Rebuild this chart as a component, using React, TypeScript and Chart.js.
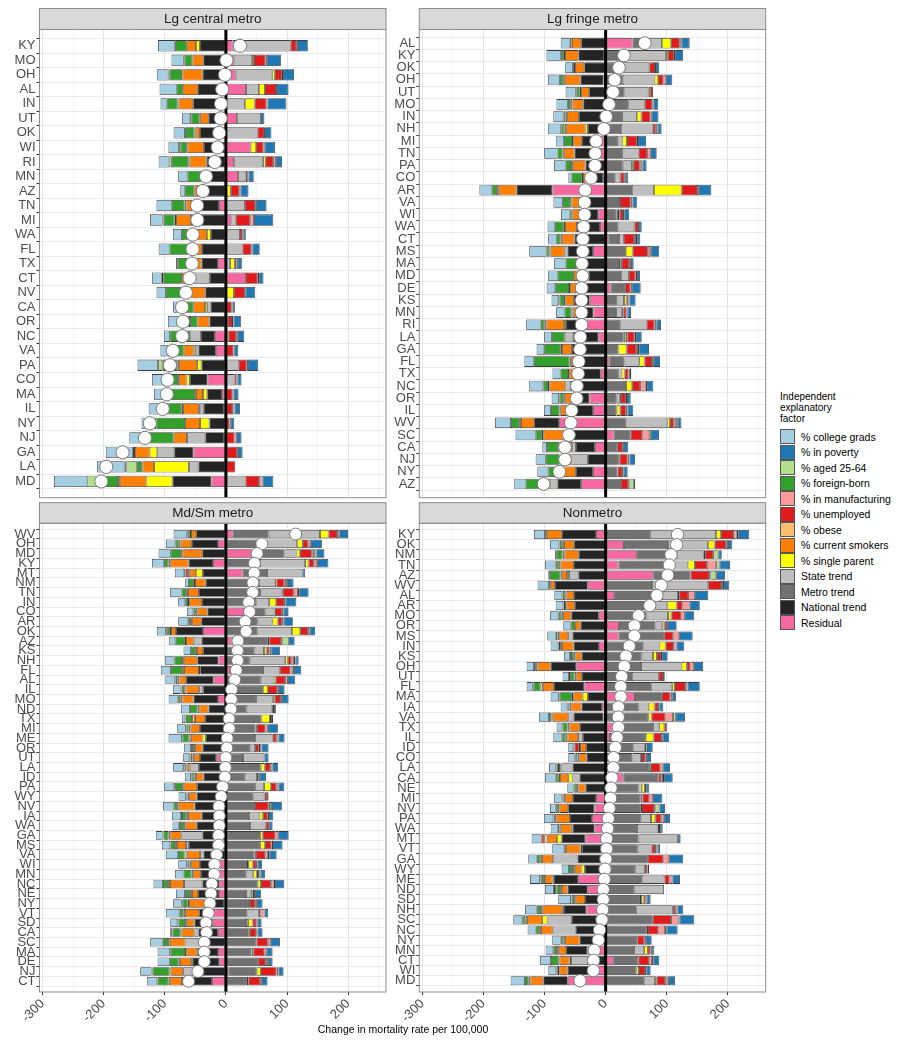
import { useEffect, useRef } from "react";
import { Chart, registerables } from "chart.js";

Chart.register(...registerables);

const FONT = "'Liberation Sans', Arial, Helvetica, sans-serif";

const factorLabels = [
  "% college grads",
  "% in poverty",
  "% aged 25-64",
  "% foreign-born",
  "% in manufacturing",
  "% unemployed",
  "% obese",
  "% current smokers",
  "% single parent",
  "State trend",
  "Metro trend",
  "National trend",
  "Residual",
];

const factorColors = [
  "#A6CEE3",
  "#1F78B4",
  "#B2DF8A",
  "#33A02C",
  "#FB9A99",
  "#E31A1C",
  "#FDBF6F",
  "#FF7F00",
  "#FFFF00",
  "#BEBEBE",
  "#717171",
  "#242424",
  "#F768A1",
];

const xGridValues = [-300, -250, -200, -150, -100, -50, 0, 50, 100, 150, 200, 250];

// Each row: [college, poverty, aged, foreign, manuf, unemp, obese, smokers, single, state, metro, national, residual]
const centralStates = ["KY", "MO", "OH", "AL", "IN", "UT", "OK", "WI", "RI", "MN", "AZ", "TN", "MI", "WA", "FL", "TX", "CT", "NV", "CA", "OR", "NC", "VA", "PA", "CO", "MA", "IL", "NY", "NJ", "GA", "LA", "MD"];
const centralValues = [
  [-28, 16, 0, -19, 3, 9, 0, -15, -6.5, 95, 0, -42.5, 11],
  [-20, 23, -1.5, -13, 2, 19, 0, -17.5, 3, 29, 0, -37, 14],
  [-19, 18, -2, -20, 2, 11, -1, -33, 4.5, 60, 0, -38, 16],
  [-28, 19, 0, -10, 1.5, 18, 0, -24.5, 10, 21, 0, -46, 33],
  [-10, 31, 0, -18, 1.5, 19.5, -1.5, -24, 16, 31, 0, -53.5, 0],
  [-12, 5.5, -3, -13, 0, 0, -1.5, -14, 0, 39.5, 0, -28, 18],
  [-18.5, 10.5, -1.5, -14, 1.5, 10.5, -2, -7, 0, 52, 0, -42.5, 0],
  [-17, 17, -3, -10, 2, 12, -1, -27, 9, 0, 0, -36, 40.5],
  [-17.5, 10, -4, -27, 4.4, 12, -2, -28, 4.4, 48, 0, -31.5, 13],
  [-15, 8.5, 0, -22, 2, 3, 0, 0, 0, 12, 0, -41, 20],
  [-8, 13, 0, -15, 2, 14, 0, -6, 8, 0, 0, -45.6, 0],
  [-25, 17, 0, -21, 1.5, 17, -3, -10, 0, 31, 0, -43.6, -11],
  [-20.7, 31.5, -1.5, -18, 6, 24, -2.5, -24.5, 0, 7, 0, -57, 9],
  [-14.7, 4, 0, -24.5, 1, 4.5, 0, -16.4, -6.5, 23, 0, -24.6, 0],
  [-17.5, 12, 0, -31.6, 1.6, 14.7, 0, -21.8, 0, 27, 0, -39, 0],
  [-2.7, 6.5, 0, -19, 2, 3, 0, -20, 7.5, 7, 0, -27.3, -12.5],
  [-16, 7, -2.5, -30.5, 2.5, 19, 0, -8, 0, -38, 0, -26, 33],
  [-15.3, 15.5, 0, -23.5, 1.5, 18, 0, -41, 13, 0, 0, -33.7, 0],
  [-7, 4, 0, -26, 1.2, 9.5, 0, -19, -3.8, -5.5, 0, -25, 0],
  [-33.5, 12, -2.7, -12, 2.5, 7, 0, -19.6, 0, 0, 0, -27, 3],
  [-9.8, 10.5, -0.7, -32, 2.5, 13, 0, 0, 4, -18, 0, -23, -18],
  [-16, 6.5, 0, -22, 1.2, 12.5, 0, -16.4, -3.3, -4.4, 0, -28.6, -16.4],
  [-33.6, 17, -7, -25, 2, 13, -2, -30, -7, 21, 0, -40, 0],
  [-17.5, 6.6, 0, -25, 1.5, 3.5, -1.5, -12.5, -5.5, 14, 0, -29, -30],
  [-16, 8.2, 0, -51, 1.5, 11, -1.3, -11.5, -7, 0, 0, -24.5, -6],
  [-32, 9, 0, -22, 4, 10, -2, -26, -1.6, -7, 0, -33, -2.7],
  [-23.5, 5.6, -0.7, -47, 2, 6, 0, -24.5, -15.3, 0, 0, -27, 0],
  [-21.8, 7.6, 0, -50.7, 4, 14, 0, -21.8, 0, -30, 0, -31, -2.7],
  [-44, 7.5, 0, -2, 1.3, 18.5, -1.6, -24, -12.5, -27.8, 0, -31.5, -53],
  [-45, -3.3, -17.5, -7.6, 0, 15.3, -1.1, -19, -57, -15.5, 0, -45, 0],
  [-54.6, 17.5, -19.6, -30.5, 6, 22, -3, -43.6, -42.5, 32, 0, -64, -23.5],
];

const fringeStates = ["AL", "KY", "OK", "OH", "UT", "MO", "IN", "NH", "MI", "TN", "PA", "CO", "AR", "VA", "WI", "WA", "CT", "MS", "MA", "MD", "DE", "KS", "MN", "RI", "LA", "GA", "FL", "TX", "NC", "OR", "IL", "WV", "SC", "CA", "NJ", "NY", "AZ"];
const fringeValues = [
  [-14.5, 13, 1.6, -3, 1.6, 14, -1, -15, 15.3, 29, 19, -40, 44],
  [-24, 13, 0, -4.4, 2.2, 9.3, -2, -21.8, 3.3, 69, 30, -42, -2.7],
  [-12.5, 5.5, 0, -1.6, 1.6, 9.3, -2, -15, 0, 48, 23.5, -35, 0],
  [-19.6, 10, 0, -5.5, 4.4, 8.7, -2.5, -25.6, 6, 52, 28, -38, -3.3],
  [-16.5, 0, -1, -5.5, 0, 4.5, -2.5, -13, 3, 39, 31, -27, 0],
  [-19, 8, 0, -4.4, 1.6, 12.5, -3, -17.5, 0, 27, 37, -36.6, 0],
  [-16.4, 11, 0, -3.3, 2, 15, -3, -19, 7.5, 24, 27, -43.9, 0],
  [-21, 6.6, -1, -5, 3, 5, -3, -31.5, -4, 52, 25, -29, 0],
  [-13.6, 13, 0, -13, 2, 16, -2, -14, 7.5, 6.5, 21, -31, -8],
  [-21.8, 9.5, 0, -8.2, 6, 14, -2, -17.5, 0, 27, 27, -43, -8],
  [-19, 6.5, 1.4, -8.7, 3.3, 9.5, -3, -20.7, 3.3, 15, 24, -33, 4],
  [-5, 4, 0, -17, 2.5, 6.5, -2, -9, 0, 8, 16, -24, -4],
  [-21, 20, 0, -7.6, 3.5, 25, -3, -29, 45.5, 36, 43, -59, -87],
  [-15.5, 7, 0, -12, 3, 17.5, -2, -14, 0, 0, 23.5, -42, 0],
  [-14, 8, 0, -3.5, 2, 6, -1.5, -16, 2.5, 2, 18, -26, -12],
  [-12.5, 4.5, 0, -14, 1.5, 6, -2, -19.6, 0, 26, 21, -38, -9],
  [-14, 5, 2, -6, 3, 17, -3, -20, 0, 7.7, 17, -51, 5],
  [-28, 13, 1.6, -5, 4, 25, -2, -23, 11, -4.5, 33, -42, -20.5],
  [-19, 4.3, 0, -20, 3, 12, 0, -2, 2.5, 2, 22, -43.6, 0],
  [-15.5, 4.7, 0, -26.5, 2.5, 11, 0, -22, -2, 13, 25, -28, 0],
  [-14, 13.8, -1.5, -21, 3, 8.5, -2, -10, 0, 0, 24, -48, 8],
  [-11, 10, -2, -7.5, 1.5, 3.5, -2, -14, 4, 10.5, 19.5, -26, -26],
  [-13.5, 5.5, 0, -11.5, 2, 5, -2, -5, 2, 10, 17, -29, -20],
  [-23.5, 7.6, -1, -5.5, 3, 13, -3, -29, -3, 43, 24, -33, -32],
  [-12.5, 9, 0, -21, 2.5, 12, 0, 3, 3, -14, 29.5, -41.5, -11.5],
  [-12.5, 16, 2, -27, 3, 16, -2, -16.5, 13, 0, 21, -55, 0],
  [-16, 10, 0, -58, 3, 12.5, -2, -6, 8.5, 24, 25, -51, 6],
  [-13, 2.5, 0, -12.5, 2, 6.5, -2, -8.5, 5, 6, 20, -43, -8],
  [-23, 10, 2.5, -7.5, 9, 13, -2.5, -26, 10, -9.5, 33.5, -56.5, 0],
  [-12, 6, -1, -6, 2, 8, -2.5, -11.5, 2, 5, 18, -29, -26.4],
  [-11.5, 9.3, 0, -14, 3, 9, -2, -9, 6, 0, 18, -44, -20.5],
  [-26, 6, 2.5, -13.5, 4, 6, -3, -21.5, 4.5, 67, 34, -41, -76],
  [-33, 13, 3, -10, 11.5, 19, -2.5, -33, 0, -14, 28, -55, 13],
  [-7.5, 7, 0, -18.5, 3, 8, -2, -21, 0, -6, 19, -31, -17.6],
  [-16.5, 9, 0, -22.5, 3, 13, -1.5, -18, 3, -27, 20, -29, 0],
  [-18, 6.5, 0, -16, 2.5, 7.5, -2, -27, 0, 0, 19.5, -28, -20.8],
  [-18.5, 2, 7, -22.5, 2, 12, -2, -12, -4, -11.5, 25, -39, -40],
];

const smallStates = ["WV", "OH", "MD", "KY", "MT", "NM", "TN", "IN", "CO", "AR", "OK", "AZ", "KS", "NH", "FL", "AL", "IL", "MO", "ND", "TX", "MI", "ME", "OR", "UT", "LA", "ID", "PA", "WY", "NV", "IA", "WA", "GA", "MS", "VA", "WI", "MN", "NC", "NE", "NY", "VT", "SD", "CA", "SC", "MA", "DE", "NJ", "CT"];
const smallValues = [
  [-21.5, 14.3, -1, -4, 3.5, 14, -2, -8.5, 14, 84, 59, -48.6, 11],
  [-15.5, 18, 0, -5.5, 5, 8, -3, -18.5, 10, 48, 68, -43, -12.7],
  [-20, 13.3, 4, -17, 3.5, 19, -2, -32.5, 6, 19.5, 52, -38.7, 44],
  [-20, 18.4, 0, -7, 5.5, 8.7, -3, -30, 5.5, 74, 55.6, -40, -21],
  [-15.3, 4.4, -2, 0, 0, -4, -3, -10, -11.5, 58, 40, -37.7, 27.3],
  [-6, 9, 3, -8, 3, 13, -2, -17.5, 3, 25.7, 54, -33, 0],
  [-19, 15.3, 2, -7.5, 7, 18, -3, -18, 2, 35, 56, -44, 0],
  [-11.5, 18, 0, -4.5, 2, 13, -2, -21, 11.5, 20.8, 50, -39, 0],
  [-10.5, 8, 0, -4, 3, 11, -3, -16, 1, 14.5, 35, -30.3, 30],
  [-16.4, 15, 0, -3, 3, 7, -3, -15.3, 8.5, 24, 52, -40.3, 0],
  [-14.7, 9, -1.5, -5, 3, 12.5, -2, -8, 13.6, 56.5, 51.5, -44.3, -37.5],
  [-10, 9.5, 10.4, -15.5, 2, 19.5, -2, -12.5, 2.5, -13, 59.5, -39.7, 9],
  [-12, 14, 3, -7, 1, 4, -3, -10, 4, 15.3, 47, -37.3, 0],
  [-15.5, 5, 2.5, -12.5, 4.5, 6, -3, -22, 4, 58, 39, -34.8, -12],
  [-16.4, 12, 2, -18.5, 3.5, 17, -3, -24.5, -2, 28, 53.8, -42, 7],
  [-16, 12, -1, -3, 4.5, 15.5, -3, -11, 3.5, 21, 57, -45, -20],
  [-12.5, 9, -1.5, -4, 3, 15, -4, -21, 8.5, -6.5, 60.5, -37.2, 0],
  [-14.7, 11, -1, -4, 3, 9, -3, -18, 3, 27, 49.6, -40, -13],
  [-14.7, 3, 0, -12.5, 0, 2, -3, -15, 2, 40.8, 34, -28.4, 0],
  [-5.5, 1.7, -1, -10, 1.5, 2, -5, -16.5, 14, 0, 58, -34, 0],
  [-14.7, 17, -1, -3.5, 4, 14, -3, -15.5, 0, 2, 48.6, -39.5, -3],
  [-22, 10, -1, -10, 3.5, 6, -4, -18.5, -5.5, 29, 47.5, -32.8, 0],
  [-11, 11.5, 2, -3.5, 2.5, 6, -3, -12.7, 0, 7.5, 40.3, -38, 0],
  [-10, 6.8, -2, -3, 0, 0, -3, -9.5, 0, 35, 28, -26.5, -15.8],
  [-16.4, 9.5, -3.3, -2, 3.5, 9, -2, -4.4, 6.5, -14, 57, -44.1, 0],
  [-10, 10, -1, -4.5, 2.5, 2, -3, -12, 0, 19, 32, -36.6, 0],
  [-16.4, 9.5, -1.5, -11, 3.5, 8.5, -3, -22, 11.5, 14.5, 48, -37, -10],
  [-12, 2.3, -1, -1.5, 0, 4.5, -3, -12, 0, 19, 44, -40, -8],
  [-17, 16, 3.5, -5.5, 2, 22.5, -3, -26, 0, 0, 47.5, -43, -8.3],
  [-15, 7, -1.5, -7, 2, 7.5, -3, -22, 6, 17, 38, -29, -10.8],
  [-10, 5.5, -2, -6.5, 0, 5, -3, -18, 0, 26.5, 39.4, -37, -10.8],
  [-11, 17, -1.5, -8.2, 4.5, 21, -3, -18, 4.5, -34.4, 52.7, -38.5, 3],
  [-13.6, 15.5, -1, -7, 2.5, 10.5, -3, -15, 8, -4.5, 56.2, -57, -3.6],
  [-20, 12, 2.5, -10.5, 4, 15.5, -4.5, -21, 2.2, -5.5, 46.8, -36.7, 0],
  [-14, 7, -1, -3.5, 2.5, 6, -2, -15, 7, 2, 34.5, -32, -10.4],
  [-13.6, 7, 1.5, -13, 2.5, 2.5, -3, -12.5, 5.5, 11, 33.8, -30.5, -10.4],
  [-15.5, 15, 2.5, -8.5, 4.5, 16, -3, -23, 5.5, -30, 52, -28.3, -10.2],
  [-14.7, 9.8, -1.5, -7, 1.5, 2.5, -3, -10, 3, 7.5, 33, -34.5, -11],
  [-14, 9, -1.5, -8.2, 3, 8.5, -2, -37, 0, 0, 39.5, -21, -2.5],
  [-22, 6, -1, -5.5, 6.5, 3, -3, -23, 0, 18.5, 35.3, -23.5, -20.2],
  [-11.5, 6.4, -2, -10.5, 2, 6.5, -3, -12.5, 7, 3.5, 33, -30, -21.5],
  [-3.5, 8.2, -1, -12.5, 2, 10.5, -2, -21, 3.3, -6.5, 36, -32, -13.1],
  [-20, 14.9, -1, -8.2, 5, 18.5, -3.5, -25, 0, -23.5, 50, -42.6, 0],
  [-20, 9.5, -1.5, -23.5, 3.5, 18.5, -2, -18, 0, 3, 41.9, -34, -12.8],
  [-20, 6, 3, -14, 3.5, 11, -3, -18, -3, 0, 52.9, -43, -10.8],
  [-18.5, 8.5, -1.5, -27.8, 3, 25.5, -2, -20.5, 7, -18, 46.4, -51.9, 4],
  [-16, 9, -1.5, -18, 3, 19.5, -2, -20, 2.5, -3, 34.2, -46, -22.8],
];

const nonmetroStates = ["KY", "OK", "NM", "TN", "AZ", "WV", "AL", "AR", "MO", "OR", "MS", "IN", "KS", "OH", "UT", "FL", "MA", "IA", "VA", "TX", "IL", "ID", "CO", "LA", "CA", "NE", "MI", "NV", "PA", "WA", "MT", "VT", "GA", "WY", "ME", "ND", "SD", "NH", "SC", "NC", "NY", "MN", "CT", "WI", "MD"];
const nonmetroValues = [
  [-18, 18, 2.5, 0, 6, 19.5, -3, -24.5, 8.5, 107.5, 73, -56, -15.8],
  [-15.3, 7, -1, -3.8, 3.5, 18.5, -3, -16.5, 11, 65.3, 72, -51.5, 30],
  [-3, 5.5, 8.5, -9.5, 0, 13, -3, -23.5, 2.5, 43, 66.5, -44, 51],
  [-17.5, 17, 5.5, -5, 15.3, 19.5, -3, -22, 12, 35, 78.2, -51.8, 21],
  [-3, 14.3, 9.5, -17, 2, 30.5, -2, -8.5, -3.3, -15.3, 61, -44.7, 78],
  [-18.5, 8.5, 2, 0, 3, 21, -3, -7, 0, 91.9, 76, -53.5, -29.3],
  [-13, 22, -1, -4, 11, 14.5, -2, -12, 2, 26, 78.5, -52, 14],
  [-12.5, 16.5, -1, -2, 11.5, 10, -2, -13.8, 15, 30, 71, -50.5, 0],
  [-13.6, 15.5, -1, -4, 5.5, 16.5, -3, -13.3, 5.5, 35, 67.1, -45, -11.2],
  [-12, 15.5, -1, -6, 0, 4, 4, -9.5, 0, 11, 59.7, -40.8, 22],
  [-13.6, 22, 0, -3, 10.5, 14, -3, -14.7, 0, -7, 74.9, -54.2, 21],
  [-12.5, 12.5, -1, -2, 6, 12, -3, -19, 10, 26.5, 61.7, -41.5, -11],
  [-10, 9, -1.5, -4.5, 2, 6.5, -3, -10, 6.5, 18.5, 59, -39.2, 0],
  [-12, 15, -1.5, -1.5, 6, 6, -3, -21.3, 8.5, 66.3, 58, -42, -48],
  [-10.4, 2.7, -2, -7, 0, 7, -3, -9, 0, 44, 43, -38, -1],
  [-10, 20, -1.5, -11, 4, 16.5, -4, -18, 4.5, 35, 74, -50, -34.8],
  [-13.6, 6, -1, -20, 3, 14, -2.5, -15.3, -8.7, 0, 44, -28.9, 48],
  [-11, 6.5, -1.5, -2, 2, 6, -3, -16.5, 9.5, 17, 53.4, -34, -5.6],
  [-16.4, 15, 4.5, -4, 12.5, 22.5, -2, -25.6, 5.5, -8.7, 69.8, -49, -3.4],
  [-8.2, 0, -1.5, -8.2, 1, 4, -3, -17, 8.2, 10, 66.3, -42.3, 11.5],
  [-13.6, 10, -1, -5.5, 3.5, 12.5, -3, -17.5, 12.5, -7.6, 58.7, -37.4, 7],
  [-8.2, 9.3, 0, -2, 1, -7, -2, -10, 2.7, 19.5, 44.5, -31.9, 0],
  [-10, 6.7, -1.5, -3.5, 2, 6, -3, -12, 1.5, 14, 44, -31.1, 0],
  [-11, 11, -3.5, -2, 4.5, 15.5, -2, -2, 3, -18, 71.3, -54.2, 0],
  [-17.5, 14, 2, -5, 2.5, 5, -2, -13.6, -7, -11.5, 57.2, -42.7, 29],
  [-10, 5, -1.5, -4, 0, 2, -3, -11.5, 5.5, 5.5, 53.5, -32.7, 0],
  [-12.5, 15, -1.5, -1.5, 6, 11.5, -3, -12.5, 0, 3, 57.2, -38, -15.6],
  [-9.3, 9.1, 6.5, -3.5, 2, 20, -3, -14, 2, 0, 57.5, -43, -18.3],
  [-15.3, 9.5, -1, -1.5, 5.5, 9, -3, -21.8, 7, 15.5, 58.8, -36, -22.4],
  [-11.5, 4, 2, -3, 0, 2.5, -2, -18, -1.5, 33.3, 51.5, -36, -18],
  [-16.4, 4.5, 0, 0, 0, -4.4, -5.5, -15, -7.6, 64.2, 54, -39, -33.2],
  [-19.6, 4, 2, 0, 2, 6, -3, -23.5, -2.7, 22.5, 52.5, -32.5, -6],
  [-13.6, 23, -1, -5, 9.5, 25.5, -3, -17.5, 0, -40.4, 69, -46.1, 0],
  [-12, 2.5, -1.5, -5, 0, 4, -3, -11, -5.5, 16, 48.5, -34, 0],
  [-16.4, 12.5, -1, -4, 4.5, 8.5, -3, -12.5, -2, 37, 59.2, -40, -44.9],
  [-14.7, -2, -2, -6, 0, 0, -3, -9.3, 0, 48, 47.5, -33, -29.3],
  [-20.7, 6.6, -1, -3.8, 1.5, 3.5, -3, -15.3, 4, 2, 56, -33.7, 0],
  [-19, 9.7, -2, -5, 3.5, 4, -3, -32, -2.7, 60.4, 49.5, -36.8, -31.5],
  [-14.7, 24, 2, -5, 12, 30, -3, -24.5, -8.7, -40, 77.1, -55.2, 0],
  [-13, 18, 2.5, -6, 11, 17, -3, -19, 2, -37.6, 67.3, -49.1, 0],
  [-13.6, 9, -1, -3.5, 3, 11.5, -3, -23.5, 0, 0, 51.8, -39.7, -3],
  [-12.5, 4, -1.5, -4.5, 2, 4.5, -3, -12, 6, 16.5, 46.6, -35, -29.7],
  [-18, 9.8, 2, -12, 4.5, 18, -2, -16.4, -2.7, -28, 41, -28.4, 12.5],
  [-12, 7, -1.5, -2, 2, 10, -2.5, -13.6, 4, 0, 50.6, -48, -14.2],
  [-23.5, 10, 2.5, -6, 3.5, 14, -3, -21, 3, 18, 62.5, -40, -62],
];

type PanelSpec = {
  title: string;
  states: string[];
  values: number[][];
  left: number;
  top: number;
  width: number;
  height: number;
  axisWidth: number;
  stripTop: number;
  plotTop: number;
  xAxisHeight: number;
  padRight: number;
  showXTicks: boolean;
  barPct: number;
  dotRadius: number;
};

const panels: PanelSpec[] = [
  { title: "Lg central metro", states: centralStates, values: centralValues, left: 0, top: 8, width: 390, height: 492, axisWidth: 39.5, stripTop: 0.5, plotTop: 21.5, xAxisHeight: 2.3, padRight: 4, showXTicks: false, barPct: 0.78, dotRadius: 6.6 },
  { title: "Lg fringe metro", states: fringeStates, values: fringeValues, left: 390, top: 8, width: 380, height: 492, axisWidth: 29.3, stripTop: 0.5, plotTop: 21.5, xAxisHeight: 2.3, padRight: 4.3, showXTicks: false, barPct: 0.87, dotRadius: 6.4 },
  { title: "Md/Sm metro", states: smallStates, values: smallValues, left: 0, top: 502, width: 390, height: 538, axisWidth: 39.5, stripTop: 0.7, plotTop: 21.3, xAxisHeight: 48, padRight: 4, showXTicks: true, barPct: 0.88, dotRadius: 6 },
  { title: "Nonmetro", states: nonmetroStates, values: nonmetroValues, left: 390, top: 502, width: 380, height: 538, axisWidth: 29.3, stripTop: 0.7, plotTop: 21.3, xAxisHeight: 48, padRight: 4.3, showXTicks: true, barPct: 0.9, dotRadius: 6.2 },
];

// Strip header, panel frame and the zero reference line
const facetPlugin = {
  id: "facet",
  beforeDatasetDraw(chart: any, args: any) {
    if (args.meta.type !== "line") return;
    const { ctx, chartArea } = chart;
    const x0 = chart.scales.x.getPixelForValue(0);
    ctx.save();
    ctx.strokeStyle = "#000000";
    ctx.lineWidth = 3;
    ctx.beginPath();
    ctx.moveTo(x0, chartArea.top);
    ctx.lineTo(x0, chartArea.bottom);
    ctx.stroke();
    ctx.restore();
  },
  afterDraw(chart: any, _args: any, opts: any) {
    const { ctx, chartArea } = chart;
    const { left, right, top, bottom } = chartArea;
    ctx.save();
    ctx.fillStyle = "#D9D9D9";
    ctx.fillRect(left, opts.stripTop, right - left, top - opts.stripTop);
    ctx.strokeStyle = "#8C8C8C";
    ctx.lineWidth = 1;
    ctx.strokeRect(left, opts.stripTop, right - left, top - opts.stripTop);
    ctx.strokeRect(left, top, right - left, bottom - top);
    ctx.fillStyle = "#1A1A1A";
    ctx.font = `13.5px ${FONT}`;
    ctx.textAlign = "center";
    ctx.textBaseline = "middle";
    ctx.fillText(opts.title, (left + right) / 2, (opts.stripTop + top) / 2 + 0.5);
    ctx.restore();
  },
};

function Panel({ spec }: { spec: PanelSpec }) {
  const ref = useRef<HTMLCanvasElement | null>(null);

  useEffect(() => {
    const canvas = ref.current;
    if (!canvas) return;
    const n = spec.states.length;
    const isMajor = (ctx: any) => ctx.tick && ctx.tick.value % 100 === 0;

    // stacked outward from zero: residual first, college grads last
    const stackOrder = factorLabels.map((_, k) => k).reverse();
    const barSets = stackOrder.map((k) => ({
      type: "bar",
      label: factorLabels[k],
      data: spec.values
        .map((row, i) => ({ x: row[k], y: i }))
        .filter((p) => p.x !== 0),
      backgroundColor: factorColors[k],
      borderColor: "#3A3A3A",
      borderWidth: 0.8,
      borderSkipped: false,
      barPercentage: spec.barPct,
      categoryPercentage: 1,
      stack: "parts",
    }));

    const netSet = {
      type: "line",
      label: "Net change",
      indexAxis: "y",
      data: spec.values.map((row, i) => ({
        x: row.reduce((a, b) => a + b, 0),
        y: i,
      })),
      showLine: false,
      pointRadius: spec.dotRadius,
      pointBackgroundColor: "#FFFFFF",
      pointBorderColor: "#7A7A7A",
      pointBorderWidth: 1,
      order: -1,
      stack: "net",
      clip: false,
    };

    const chart = new Chart(canvas, {
      type: "bar",
      data: { datasets: [...barSets, netSet] as any },
      plugins: [facetPlugin],
      options: {
        indexAxis: "y",
        responsive: false,
        maintainAspectRatio: false,
        animation: false,
        events: [],
        layout: {
          autoPadding: false,
          padding: { top: spec.plotTop, right: spec.padRight, left: 0, bottom: 0 },
        },
        scales: {
          x: {
            type: "linear",
            min: -305,
            max: 262,
            stacked: true,
            afterBuildTicks: (s: any) => {
              s.ticks = xGridValues.map((v) => ({ value: v }));
            },
            afterFit: (s: any) => {
              s.height = spec.xAxisHeight;
              s.paddingLeft = 0;
              s.paddingRight = 0;
              s.paddingTop = 0;
              s.paddingBottom = 0;
            },
            border: { display: false },
            grid: {
              color: (ctx: any) => (isMajor(ctx) ? "#E3E3E3" : "#F1F1F1"),
              lineWidth: (ctx: any) => (isMajor(ctx) ? 1 : 0.7),
              tickColor: (ctx: any) => (isMajor(ctx) ? "#333333" : "rgba(0,0,0,0)"),
              tickLength: 3,
              drawTicks: spec.showXTicks,
            },
            ticks: {
              display: spec.showXTicks,
              autoSkip: false,
              minRotation: 45,
              maxRotation: 45,
              padding: 1,
              color: "#4D4D4D",
              font: { family: FONT, size: 13 },
              callback: (v: any) => (Number(v) % 100 === 0 ? String(v) : ""),
            },
          },
          y: {
            type: "linear",
            reverse: true,
            min: -0.6,
            max: n - 0.4,
            stacked: true,
            afterBuildTicks: (s: any) => {
              s.ticks = spec.states.map((_, i) => ({ value: i }));
            },
            afterFit: (s: any) => {
              s.width = spec.axisWidth;
              s.paddingTop = 0;
              s.paddingBottom = 0;
              s.paddingLeft = 0;
              s.paddingRight = 0;
            },
            border: { display: false },
            grid: {
              color: "#EBEBEB",
              lineWidth: 1,
              tickColor: "#333333",
              tickLength: 3,
            },
            ticks: {
              autoSkip: false,
              padding: 1,
              color: "#4D4D4D",
              font: { family: FONT, size: 13 },
              callback: (v: any) => spec.states[Number(v)] ?? "",
            },
          },
        },
        plugins: {
          legend: { display: false },
          tooltip: { enabled: false },
          facet: { title: spec.title, stripTop: spec.stripTop },
        } as any,
      } as any,
    } as any);

    return () => chart.destroy();
  }, [spec]);

  return (
    <canvas
      ref={ref}
      width={spec.width}
      height={spec.height}
      style={{
        position: "absolute",
        left: spec.left,
        top: spec.top,
        width: spec.width,
        height: spec.height,
      }}
    />
  );
}

function Legend() {
  return (
    <div style={{ position: "absolute", left: 780, top: 391, fontFamily: FONT, color: "#000" }}>
      <div style={{ fontSize: 10, lineHeight: "11px", marginBottom: 5 }}>
        Independent
        <br />
        explanatory
        <br />
        factor
      </div>
      {factorLabels.map((label, k) => (
        <div key={label} style={{ display: "flex", alignItems: "center", height: 15.5 }}>
          <div
            style={{
              width: 15,
              height: 15,
              boxSizing: "border-box",
              background: factorColors[k],
              border: "1px solid #555555",
              marginRight: 6,
            }}
          />
          <span style={{ fontSize: 10.5, whiteSpace: "nowrap" }}>{label}</span>
        </div>
      ))}
    </div>
  );
}

export default function App() {
  return (
    <div
      style={{
        position: "absolute",
        left: 0,
        top: 0,
        width: 897,
        height: 1040,
        background: "#FFFFFF",
        overflow: "hidden",
      }}
    >
      {panels.map((p) => (
        <Panel key={p.title} spec={p} />
      ))}
      <Legend />
      <div
        style={{
          position: "absolute",
          left: 403,
          top: 1023,
          transform: "translateX(-50%)",
          fontFamily: FONT,
          fontSize: 10.5,
          whiteSpace: "nowrap",
          color: "#000",
        }}
      >
        Change in mortality rate per 100,000
      </div>
    </div>
  );
}
